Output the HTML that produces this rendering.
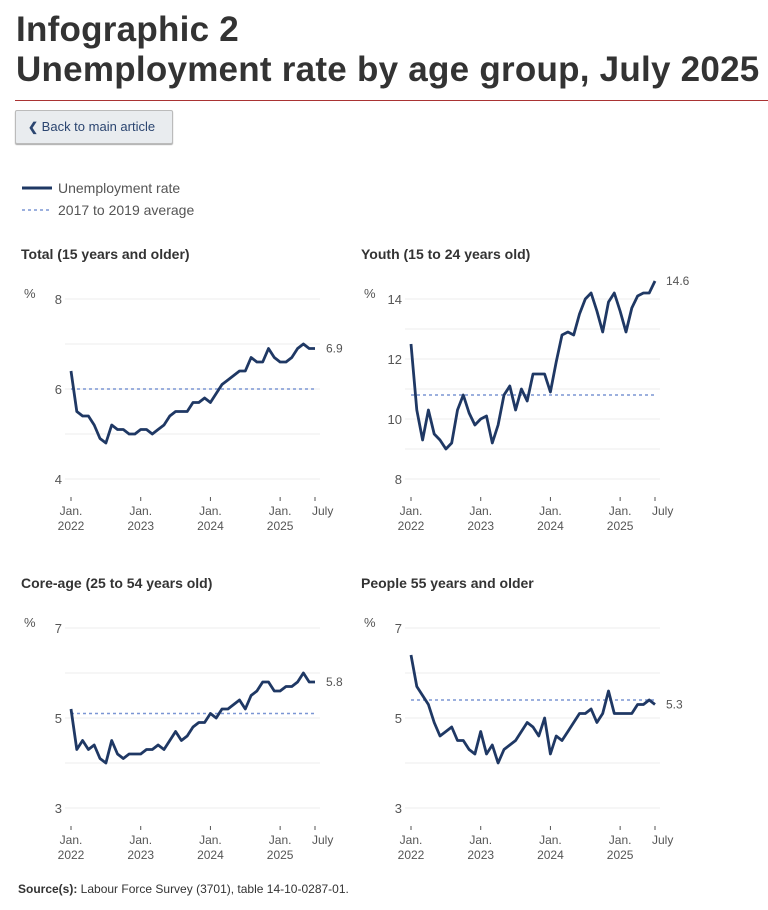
<!DOCTYPE html>
<html><head><meta charset="utf-8"><style>
body{margin:0;width:768px;height:910px;background:#fff;font-family:"Liberation Sans",sans-serif;color:#333;position:relative;overflow:hidden}
h1{position:absolute;left:16px;top:10px;margin:0;font-size:35px;line-height:40px;font-weight:bold;color:#333;letter-spacing:0.25px;white-space:nowrap}
.rule{position:absolute;left:15px;top:100px;width:753px;height:1px;background:#a33}
.btn{position:absolute;left:15px;top:110px;width:158px;height:34px;border:1px solid #bbb;border-radius:2px;background:#e9ecef;box-shadow:0 1px 1px #aaa;font-size:13px;color:#2b4570;line-height:32px;box-sizing:border-box;padding-left:12px}
svg{position:absolute;left:0;top:0}
</style></head><body>
<h1>Infographic 2<br>Unemployment rate by age group, July 2025</h1>
<div class="rule"></div>
<div class="btn"><b style="font-size:12px">&#10094;</b> Back to main article</div>
<svg width="768" height="910" id="chart">
 <line x1="22" y1="188" x2="52" y2="188" stroke="#1f3864" stroke-width="3"/>
 <text x="58" y="193" font-size="14" fill="#555">Unemployment rate</text>
 <line x1="22" y1="210" x2="52" y2="210" stroke="#7b96d4" stroke-width="1.5" stroke-dasharray="3,3"/>
 <text x="58" y="215" font-size="14" fill="#555">2017 to 2019 average</text>
 <text x="18" y="893" font-size="12" fill="#333"><tspan font-weight="bold">Source(s):</tspan> Labour Force Survey (3701), table 14-10-0287-01.</text>
</svg>
<script>
const totalVals=[6.4,5.5,5.4,5.4,5.2,4.9,4.8,5.2,5.1,5.1,5.0,5.0,5.1,5.1,5.0,5.1,5.2,5.4,5.5,5.5,5.5,5.7,5.7,5.8,5.7,5.9,6.1,6.2,6.3,6.4,6.4,6.7,6.6,6.6,6.9,6.7,6.6,6.6,6.7,6.9,7.0,6.9,6.9];
const youthVals=[12.5,10.3,9.3,10.3,9.5,9.3,9.0,9.2,10.3,10.8,10.2,9.8,10.0,10.1,9.2,9.8,10.8,11.1,10.3,11.0,10.6,11.5,11.5,11.5,10.9,11.9,12.8,12.9,12.8,13.5,14.0,14.2,13.6,12.9,13.9,14.2,13.6,12.9,13.7,14.1,14.2,14.2,14.6];
const coreVals=[5.2,4.3,4.5,4.3,4.4,4.1,4.0,4.5,4.2,4.1,4.2,4.2,4.2,4.3,4.3,4.4,4.3,4.5,4.7,4.5,4.6,4.8,4.9,4.9,5.1,5.0,5.2,5.2,5.3,5.4,5.2,5.5,5.6,5.8,5.8,5.6,5.6,5.7,5.7,5.8,6.0,5.8,5.8];
const olderVals=[6.4,5.7,5.5,5.3,4.9,4.6,4.7,4.8,4.5,4.5,4.3,4.2,4.7,4.2,4.4,4.0,4.3,4.4,4.5,4.7,4.9,4.8,4.6,5.0,4.2,4.6,4.5,4.7,4.9,5.1,5.1,5.2,4.9,5.1,5.6,5.1,5.1,5.1,5.1,5.3,5.3,5.4,5.3];
const averages=[6.0,10.8,5.1,5.4];
const titles=["Total (15 years and older)","Youth (15 to 24 years old)","Core-age (25 to 54 years old)","People 55 years and older"];
const yTicks=[[4,6,8],[8,10,12,14],[3,5,7],[3,5,7]];
const yMins=[4,8,3,3];const yMaxs=[8,14,7,7];
const lastLabels=["6.9","14.6","5.8","5.3"];
const xTickIdx=[0,12,24,36,42];
const xTickTop=["Jan.","Jan.","Jan.","Jan.","July"];
const xTickBot=["2022","2023","2024","2025",""];
const series=[totalVals,youthVals,coreVals,olderVals];
const svg=document.getElementById('chart');const NS='http://www.w3.org/2000/svg';
function mk(t,a,p){const e=document.createElementNS(NS,t);for(const k in a)e.setAttribute(k,a[k]);(p||svg).appendChild(e);return e;}
const origins=[[0,0],[340,0],[0,329],[340,329]];
for(let p=0;p<4;p++){
 const ox=origins[p][0],oy=origins[p][1];
 const g=mk('g',{});
 
 
 const x0=71+ox,x1=315+ox,yT=299+oy,yB=479+oy;
 const xs=i=>x0+(x1-x0)*i/42;
 const ys=v=>yB-(v-yMins[p])/(yMaxs[p]-yMins[p])*(yB-yT);
 const t=mk('text',{x:21+ox,y:259+oy,'font-size':14,'font-weight':'bold',fill:'#333'},g);t.textContent=titles[p];
 
 
 const pc=mk('text',{x:24+ox,y:298+oy,'font-size':13,fill:'#555'},g);pc.textContent='%';
 const step=(yTicks[p][1]-yTicks[p][0])/2;
 for(let v=yMins[p];v<=yMaxs[p]+1e-9;v+=step){
  const l=mk('line',{x1:65+ox,x2:320+ox,y1:ys(v),y2:ys(v),stroke:'#ececec','stroke-width':1},g);
  
  
 }
 yTicks[p].forEach(v=>{const e=mk('text',{x:62+ox,y:ys(v)+5,'font-size':13,fill:'#555','text-anchor':'end'},g);e.textContent=v;
  
  });
 xTickIdx.forEach((ix,k)=>{const x=xs(ix);
  mk('line',{x1:x,x2:x,y1:497+oy,y2:501+oy,stroke:'#555'},g);
  const a=mk('text',{x:x,y:515+oy,'font-size':12,fill:'#555','text-anchor':k==4?'start':'middle'},g);a.textContent=xTickTop[k];
  if(k==4)a.setAttribute('x',x-3);
  
  
  const b=mk('text',{x:x,y:530+oy,'font-size':12,fill:'#555','text-anchor':'middle'},g);b.textContent=xTickBot[k];});
 const av=mk('line',{x1:x0,x2:x1,y1:ys(averages[p]),y2:ys(averages[p]),stroke:'#7b96d4','stroke-width':1.5,'stroke-dasharray':'3,3'},g);
 
 
 const d=series[p].map((v,i)=>(i?'L':'M')+xs(i).toFixed(1)+','+ys(v).toFixed(1)).join('');
 const ln=mk('path',{d:d,fill:'none',stroke:'#1f3864','stroke-width':2.8,'stroke-linejoin':'round'},g);
 
 
 const lv=series[p][42];
 const lb=mk('text',{x:x1+11,y:ys(lv)+4,'font-size':12,fill:'#555'},g);lb.textContent=lastLabels[p];
 
 
}
</script>
</body></html>
